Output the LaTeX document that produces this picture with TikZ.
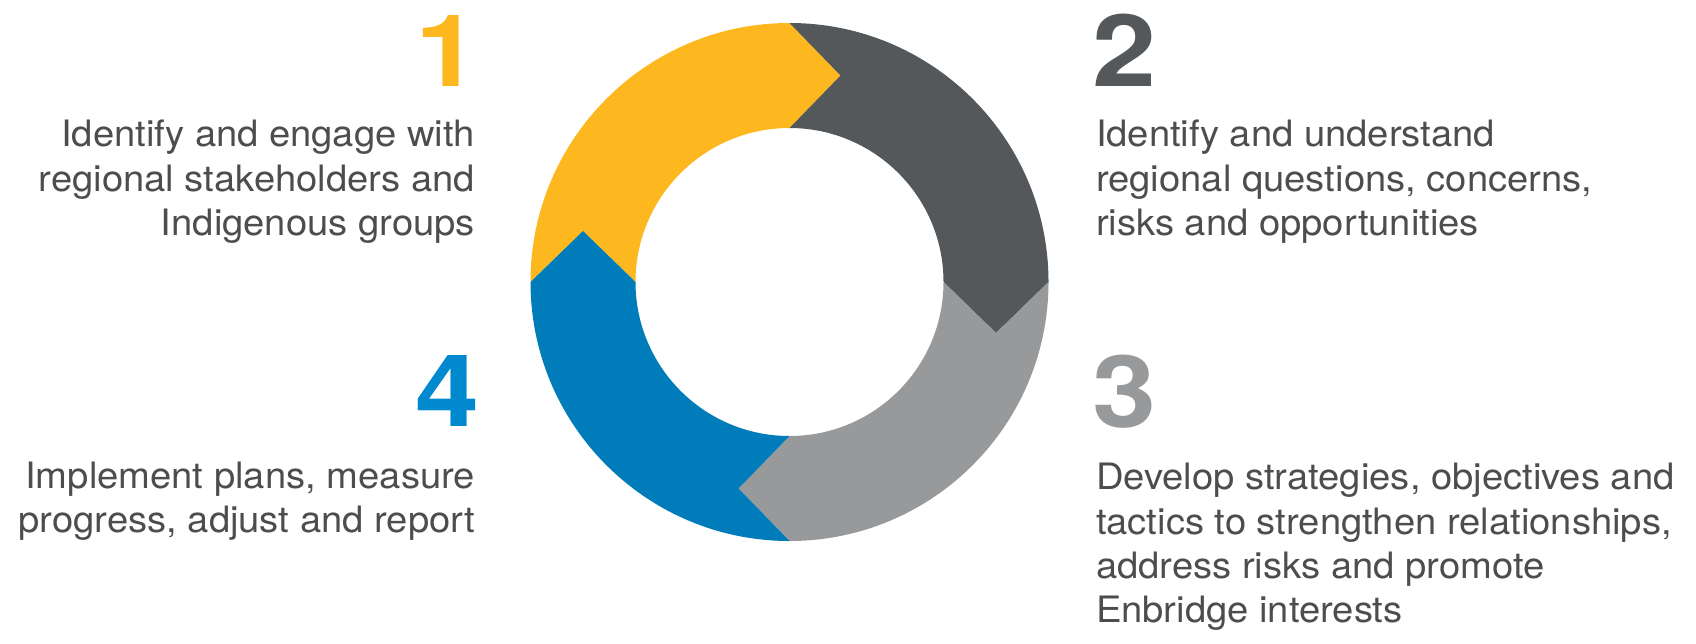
\documentclass[tikz,border=0pt]{standalone}
\usepackage{fontspec}
\setmainfont{TeX Gyre Heros}
\usetikzlibrary{positioning}
\definecolor{ringyellow}{HTML}{FDB71F}
\definecolor{ringdark}{HTML}{55585A}
\definecolor{ringlight}{HTML}{98999B}
\definecolor{ringblue}{HTML}{007CBA}
\definecolor{numblue}{HTML}{0089CF}
\definecolor{textgray}{HTML}{4D4D4F}
\tikzset{
    stepnum/.style={
        inner sep=0pt,
        xscale=1.15,
        transform shape,
        font=\fontsize{57}{57}\selectfont\bfseries
    },
    steptext/.style={
        inner sep=0pt,
        text=textgray,
        xscale=1.05,
        transform shape,
        font=\fontsize{20.7}{25.2}\selectfont
    },
    lefttext/.style={
        steptext,
        align=right
    },
    righttext/.style={
        steptext,
        align=left
    }
}
\begin{document}
\begin{tikzpicture}[x=0.02cm, y=0.02cm]
\useasboundingbox (0,0) rectangle (1696,-643);

% Cycle ring
\begin{scope}[shift={(789.5,-282)}]
\foreach \col [count=\k from 0] in {ringyellow, ringdark, ringlight, ringblue}
    \fill[\col, rotate=-90*\k] (180:259) arc[start angle=180, end angle=90, radius=259]
        -- (51,206.5) -- (90:154) arc[start angle=90, end angle=180, radius=154]
        -- (-206.5,51) -- cycle;
\end{scope}

% Step numbers
\node[stepnum, text=ringyellow, anchor=base east] (n1) at (479.5,-86) {1};
\node[stepnum, text=ringdark, anchor=base west] (n2) at (1092.5,-86) {2};
\node[stepnum, text=ringlight, anchor=base west] (n3) at (1092.5,-427) {3};
\node[stepnum, text=numblue, anchor=base east] (n4) at (479.5,-426) {4};

% Step texts
\node[lefttext, below=0.68cm of n1.base east, anchor=north east, xshift=-0.08cm] (t1)
    {Identify and engage with\\regional stakeholders and\\Indigenous groups};
\node[righttext, below=0.68cm of n2.base west, anchor=north west, xshift=0.06cm] (t2)
    {Identify and understand\\regional questions, concerns,\\risks and opportunities};
\node[righttext, below=0.72cm of n3.base west, anchor=north west, xshift=0.06cm] (t3)
    {Develop strategies, objectives and\\tactics to strengthen relationships,\\address risks and promote\\Enbridge interests};
\node[lefttext, below=0.71cm of n4.base east, anchor=north east, xshift=-0.08cm] (t4)
    {Implement plans, measure\\progress, adjust and report};

\end{tikzpicture}
\end{document}
